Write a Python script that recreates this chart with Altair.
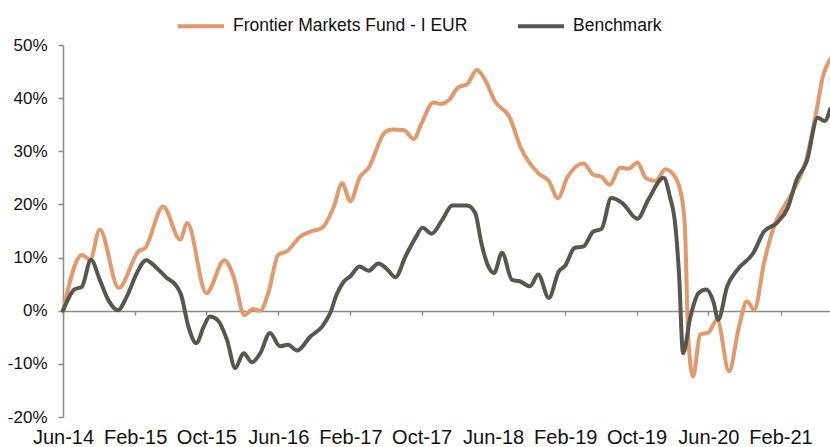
import altair as alt
import pandas as pd

FUND = "Frontier Markets Fund - I EUR"
BENCH = "Benchmark"
ORANGE = "#E2996C"
DARK = "#57564F"
FONT = "Liberation Sans"

fund_dates = ["2014-06-01","2014-08-04","2014-09-01","2014-10-04","2014-12-07","2015-02-13","2015-03-07","2015-05-07","2015-07-04","2015-07-28","2015-10-01","2015-12-01","2016-01-01","2016-02-07","2016-03-07","2016-04-01","2016-04-28","2016-06-01","2016-07-01","2016-08-16","2016-09-19","2016-10-28","2016-12-07","2017-01-04","2017-02-01","2017-03-04","2017-04-04","2017-05-28","2017-06-22","2017-08-01","2017-09-04","2017-10-01","2017-11-10","2017-12-04","2018-01-01","2018-02-04","2018-03-04","2018-04-07","2018-05-04","2018-06-07","2018-07-28","2018-09-01","2018-11-01","2018-12-07","2019-01-07","2019-02-07","2019-04-04","2019-05-07","2019-06-04","2019-07-01","2019-08-07","2019-09-04","2019-10-04","2019-11-01","2019-12-04","2020-01-07","2020-02-04","2020-03-01","2020-03-13","2020-03-25","2020-04-10","2020-05-04","2020-06-01","2020-07-01","2020-08-10","2020-09-13","2020-10-10","2020-11-04","2020-12-07","2021-01-10","2021-02-13","2021-03-16","2021-05-01","2021-06-04","2021-06-25","2021-07-19"]
fund_values = [0,10.5,9.6,15.3,4.3,11.2,11.8,19.6,13.4,16.5,3.3,9.5,6.5,-0.8,0.3,0.0,3.3,10.5,11.2,14.0,14.9,15.6,19.6,24.0,20.6,25.0,26.9,33.5,34.1,34.0,32.3,35.3,39.2,38.9,39.6,42.1,42.6,45.3,43.5,39.4,36.3,30.9,25.9,24.4,21.2,25.0,27.7,25.6,25.2,23.7,26.9,26.7,27.9,25.0,24.4,26.6,25.6,21.8,15.9,-5.5,-12.4,-4.5,-4.1,-1.7,-11.4,-3.0,1.8,0.2,9.0,15.9,19.6,22.5,28.8,37.9,44.1,47.3]

bench_dates = ["2014-06-01","2014-07-10","2014-08-04","2014-09-04","2014-10-04","2014-11-04","2014-12-04","2015-01-04","2015-02-07","2015-03-10","2015-04-16","2015-05-19","2015-06-22","2015-07-07","2015-08-01","2015-08-28","2015-09-22","2015-10-13","2015-11-07","2015-12-10","2016-01-07","2016-02-04","2016-03-04","2016-04-01","2016-05-04","2016-06-07","2016-07-04","2016-08-04","2016-09-19","2016-10-28","2016-11-25","2016-12-16","2017-01-10","2017-02-01","2017-03-04","2017-04-04","2017-05-07","2017-06-04","2017-07-04","2017-08-07","2017-09-10","2017-10-04","2017-11-04","2017-12-10","2018-01-13","2018-03-04","2018-04-01","2018-04-22","2018-05-16","2018-06-04","2018-07-01","2018-08-04","2018-09-01","2018-10-04","2018-11-01","2018-12-07","2019-01-10","2019-02-01","2019-03-04","2019-04-04","2019-05-07","2019-06-04","2019-07-07","2019-08-13","2019-10-04","2019-11-10","2020-01-01","2020-01-22","2020-02-10","2020-02-22","2020-03-07","2020-04-01","2020-04-28","2020-05-25","2020-06-19","2020-07-04","2020-08-04","2020-09-07","2020-11-01","2020-12-07","2021-01-19","2021-02-25","2021-03-28","2021-05-01","2021-06-07","2021-07-01","2021-07-19"]
bench_values = [0,4.0,4.5,9.6,5.8,1.8,0.1,2.7,7.1,9.5,8.0,6.2,4.6,3.0,-3.0,-6.1,-3.0,-1.1,-1.7,-5.5,-10.8,-8.0,-9.7,-8.0,-4.2,-6.7,-6.4,-7.5,-4.8,-3.0,-0.4,3.0,5.5,6.5,8.3,7.5,8.9,7.9,6.3,10.2,13.7,15.6,14.5,17.1,19.8,19.8,18.4,12.7,8.3,7.1,10.9,5.8,5.5,4.6,6.8,2.4,7.4,8.5,11.8,12.1,14.9,15.4,21.2,20.3,17.3,20.9,25.0,21.5,15.9,7.1,-8.0,-1.1,3.3,4.0,1.5,-1.7,4.6,7.7,10.9,14.9,16.5,19.3,24.7,28.1,36.3,35.7,37.9]

tick_months = [(2014, 6), (2015, 2), (2015, 10), (2016, 6), (2017, 2), (2017, 10),
               (2018, 6), (2019, 2), (2019, 10), (2020, 6), (2021, 2)]
y_ticks = [-20, -10, 0, 10, 20, 30, 40, 50]

df = pd.concat([
    pd.DataFrame({"date": fund_dates, "value": fund_values, "series": FUND}),
    pd.DataFrame({"date": bench_dates, "value": bench_values, "series": BENCH}),
], ignore_index=True)

x = alt.X(
    "date:T",
    scale=alt.Scale(
        type="utc",
        domain=[alt.DateTime(year=2014, month=6, date=1, utc=True),
                alt.DateTime(year=2021, month=7, date=19, utc=True)],
    ),
    axis=alt.Axis(
        values=[alt.DateTime(year=yy, month=mm, date=1, utc=True) for yy, mm in tick_months],
        labelExpr="utcFormat(datum.value, '%b-%y')",
        offset=-106,
        grid=False,
        title=None,
        domainColor="#8c8c8c",
        domainWidth=1.5,
        tickColor="#8c8c8c",
        tickWidth=1.5,
        tickSize=4,
        labelPadding=112,
        labelFont=FONT,
        labelFontSize=20,
        labelColor="#111111",
        labelOverlap=False,
        labelFlush=False,
    ),
)

y = alt.Y(
    "value:Q",
    scale=alt.Scale(domain=[-20, 50], nice=False, zero=False),
    axis=alt.Axis(
        values=y_ticks,
        labelExpr="datum.value + '%'",
        grid=False,
        title=None,
        domainColor="#8c8c8c",
        domainWidth=1.5,
        tickColor="#8c8c8c",
        tickWidth=1.5,
        tickSize=5,
        labelPadding=11,
        labelFont=FONT,
        labelFontSize=17,
        labelColor="#111111",
    ),
)

color = alt.Color(
    "series:N",
    scale=alt.Scale(domain=[FUND, BENCH], range=[ORANGE, DARK]),
    legend=alt.Legend(
        orient="none",
        legendX=113,
        legendY=-44,
        direction="horizontal",
        title=None,
        symbolType="stroke",
        symbolSize=2116,
        symbolStrokeWidth=4,
        labelFont=FONT,
        labelFontSize=17.5,
        labelColor="#111111",
        labelOffset=7,
        columnPadding=42,
        padding=0,
        labelLimit=400,
    ),
)

base = alt.Chart().mark_line(strokeWidth=4, interpolate="monotone",
                             strokeCap="round", strokeJoin="round").encode(x=x, y=y, color=color)

fund_layer = base.transform_filter(alt.datum.series == FUND)
bench_layer = base.transform_filter(alt.datum.series == BENCH)

chart = alt.layer(fund_layer, bench_layer, data=df).properties(
    width=767,
    height=372,
    padding={"left": 63, "top": 45, "right": 0, "bottom": 30},
    autosize=alt.AutoSizeParams(type="none"),
    background="white",
).configure_view(stroke=None)

chart.save("out.html", embed_options={"renderer": "svg", "actions": False})
